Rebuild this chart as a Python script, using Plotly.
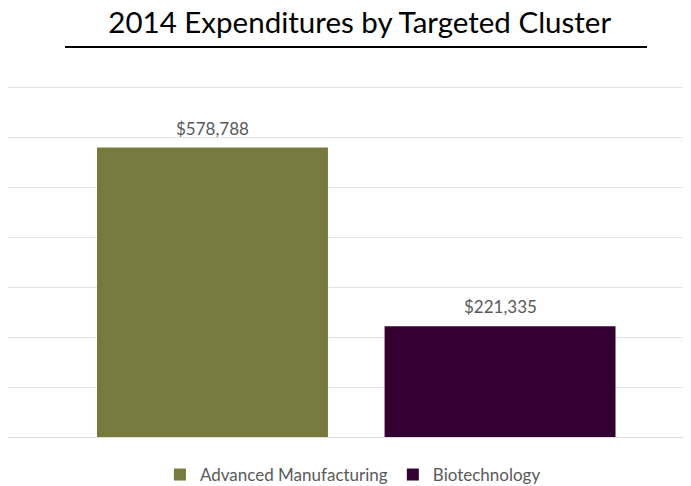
import plotly.graph_objects as go

clusters = ["Advanced Manufacturing", "Biotechnology"]
expenditures = [578788, 221335]
colors = ["#777a3c", "#330031"]
grid_values = [0, 100000, 200000, 300000, 400000, 500000, 600000, 700000]

# the page body adds an 8px margin, so the figure is 8px smaller each way
fig = go.Figure()
for name, val, col in zip(clusters, expenditures, colors):
    fig.add_trace(go.Bar(
        x=[name], y=[val], name=name, width=0.803,
        marker=dict(color=col, line=dict(width=0)),
        hoverinfo="y",
    ))
    fig.add_annotation(
        x=name, y=val, text=f"${val:,}", showarrow=False,
        yanchor="bottom", yshift=7,
        font=dict(color="#595959", size=17, family="Lato"),
    )

fig.update_layout(
    width=683, height=478,
    margin=dict(l=0, r=0, t=74, b=49, autoexpand=False),
    paper_bgcolor="white", plot_bgcolor="white",
    barmode="overlay", showlegend=True,
    title=dict(text="2014 Expenditures by Targeted Cluster",
               x=0.515, xanchor="center", y=0.97, yanchor="middle",
               font=dict(family="Lato", size=29.5, color="black")),
    legend=dict(orientation="h", x=0.505, xanchor="center", y=-0.107, yanchor="middle",
                font=dict(family="Lato", size=17, color="#595959"),
                itemwidth=30, traceorder="normal"),
    font=dict(family="Lato"),
    shapes=[dict(type="line", xref="paper", yref="paper",
                 x0=0.0835, x1=0.9356, y0=1.0986, y1=1.0986,
                 line=dict(color="black", width=2))],
)
fig.update_xaxes(showticklabels=False, range=[-0.711, 1.664], showgrid=False,
                 zeroline=False, automargin=False)
fig.update_yaxes(range=[0, 710000], tickvals=grid_values,
                 showticklabels=False, automargin=False,
                 showgrid=True, gridcolor="#e4e4e4", gridwidth=1,
                 zeroline=True, zerolinecolor="#dcdcdc", zerolinewidth=1)

fig.write_html("out.html")
